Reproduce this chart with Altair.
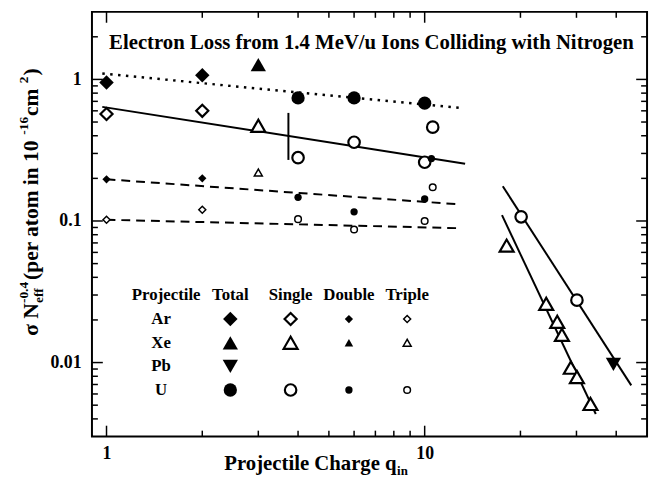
import altair as alt
import pandas as pd

# ---------------- data ----------------
# Total (large filled symbols)
ar_total_q = [1, 2]
ar_total = [0.95, 1.07]
xe_total_q = [3]
xe_total = [1.27]
pb_total_q = [39.2]
pb_total = [0.0097]
u_total_q = [4, 6, 10]
u_total = [0.74, 0.74, 0.68]

# Single (large open symbols)
ar_single_q = [1, 2]
ar_single = [0.57, 0.60]
xe_single_q = [3, 18.1, 24.1, 26.1, 27.0, 28.8, 30.1, 33.2]
xe_single = [0.47, 0.067, 0.026, 0.0194, 0.0157, 0.0092, 0.0079, 0.0051]
u_single_q = [4, 6, 10, 10.6, 20.1, 30.1]
u_single = [0.28, 0.36, 0.26, 0.46, 0.107, 0.0276]

# Double (small filled symbols)
ar_double_q = [1, 2]
ar_double = [0.197, 0.20]
u_double_q = [4, 6, 10, 10.5]
u_double = [0.147, 0.116, 0.143, 0.276]

# Triple (small open symbols)
ar_triple_q = [1, 2]
ar_triple = [0.102, 0.12]
xe_triple_q = [3]
xe_triple = [0.22]
u_triple_q = [4, 6, 10, 10.6]
u_triple = [0.103, 0.087, 0.10, 0.173]

# fitted lines (end points)
total_fit_q = [0.97, 12.8]
total_fit = [1.10, 0.63]
single_fit_q = [0.97, 13.4]
single_fit = [0.64, 0.254]
double_fit_q = [1.0, 12.9]
double_fit = [0.197, 0.131]
triple_fit_q = [1.0, 12.7]
triple_fit = [0.102, 0.089]
u_steep_q = [17.6, 44.6]
u_steep = [0.176, 0.0069]
xe_steep_q = [17.5, 34.5]
xe_steep = [0.11, 0.00433]

# vertical bar
bar_q = [3.73]
bar_lo = [0.27]
bar_hi = [0.58]

# axis ticks
x_major = [1, 10]
x_minor = [2, 3, 4, 5, 6, 7, 8, 9, 20, 30, 40]
y_major = [0.01, 0.1, 1]
y_minor = [0.004, 0.005, 0.006, 0.007, 0.008, 0.009,
           0.02, 0.03, 0.04, 0.05, 0.06, 0.07, 0.08, 0.09,
           0.2, 0.3, 0.4, 0.5, 0.6, 0.7, 0.8, 0.9, 2]

# legend table (placed in data coordinates)
legend_projectiles = ["Ar", "Xe", "Pb", "U"]
legend_row_s = [0.0203, 0.0138, 0.0094, 0.0064]
legend_columns = ["Total", "Single", "Double", "Triple"]
legend_col_q = [2.45, 3.79, 5.78, 8.81]
legend_header_s = 0.0298
legend_header_q = 1.54
legend_label_q = 1.485

# ---------------- layout / style ----------------
W, H = 562, 430
FONT = "Liberation Serif"
xscale = alt.Scale(type="log", domain=[0.9, 50], nice=False)
yscale = alt.Scale(type="log", domain=[0.003, 3], nice=False)
xaxis = alt.Axis(values=x_major, format="d", title=None, grid=False, ticks=False,
                 domain=False, labelPadding=8, labelFontSize=18, labelFont=FONT,
                 labelFontWeight="bold", labelColor="black")
yaxis = alt.Axis(values=y_major, format=".2~f", title=None, grid=False, ticks=False,
                 domain=False, labelPadding=11, labelFontSize=18, labelFont=FONT,
                 labelFontWeight="bold", labelColor="black")


def X():
    return alt.X("q:Q", scale=xscale, axis=xaxis)


def Y(field="s"):
    return alt.Y(f"{field}:Q", scale=yscale, axis=yaxis)


SHAPE = {"Ar": "diamond", "Xe": "triangle-up", "Pb": "triangle-down", "U": "circle"}
SIZE_BIG = {"diamond": (215, 150), "triangle-up": (240, 200),
            "triangle-down": (240, 200), "circle": (180, 135)}
SIZE_SMALL = {"diamond": (70, 50), "triangle-up": (75, 65),
              "triangle-down": (75, 65), "circle": (55, 45)}


def markers(q, s, proj, kind):
    shape = SHAPE[proj]
    filled = kind in ("Total", "Double")
    big = kind in ("Total", "Single")
    size = (SIZE_BIG if big else SIZE_SMALL)[shape][0 if filled else 1]
    sw = 0 if filled else (2.2 if big else 1.5)
    df = pd.DataFrame({"q": q, "s": s})
    return alt.Chart(df).mark_point(
        shape=shape, filled=True, fill="black" if filled else "white",
        stroke="black", strokeWidth=sw, size=size, opacity=1
    ).encode(x=X(), y=Y())


def line(q, s, dash=None, width=2.0):
    df = pd.DataFrame({"q": q, "s": s})
    kw = dict(color="black", strokeWidth=width, clip=True)
    if dash:
        kw["strokeDash"] = dash
    return alt.Chart(df).mark_line(**kw).encode(x=X(), y=Y())


def text_at(txt, x, y, size, angle=0, align="left", baseline="alphabetic"):
    df = pd.DataFrame({"t": [txt]})
    return alt.Chart(df).mark_text(
        font=FONT, fontWeight="bold", fontSize=size, color="black",
        align=align, baseline=baseline, angle=angle
    ).encode(text="t:N", x=alt.value(x), y=alt.value(y))


layers = []

# inward ticks
def yticks(vals, length):
    df = pd.DataFrame({"s": vals})
    left = alt.Chart(df).mark_rule(color="black", strokeWidth=1.5).encode(
        y=Y(), x=alt.value(0), x2=alt.value(length))
    right = alt.Chart(df).mark_rule(color="black", strokeWidth=1.5).encode(
        y=Y(), x=alt.value(W - length), x2=alt.value(W))
    return [left, right]


def xticks(vals, length):
    df = pd.DataFrame({"q": vals})
    bottom = alt.Chart(df).mark_rule(color="black", strokeWidth=1.5).encode(
        x=X(), y=alt.value(H), y2=alt.value(H - length))
    top = alt.Chart(df).mark_rule(color="black", strokeWidth=1.5).encode(
        x=X(), y=alt.value(0), y2=alt.value(length))
    return [bottom, top]


layers += yticks(y_major, 11) + yticks(y_minor, 6)
layers += xticks(x_major, 11) + xticks(x_minor, 6)

# fit lines
layers.append(line(total_fit_q, total_fit, dash=[2.5, 5.5], width=2.5))
layers.append(line(single_fit_q, single_fit))
layers.append(line(double_fit_q, double_fit, dash=[9, 6]))
layers.append(line(triple_fit_q, triple_fit, dash=[9, 6]))
layers.append(line(u_steep_q, u_steep))
layers.append(line(xe_steep_q, xe_steep))

# vertical bar
bar_df = pd.DataFrame({"q": bar_q, "s": bar_lo, "s2": bar_hi})
layers.append(alt.Chart(bar_df).mark_rule(color="black", strokeWidth=2).encode(
    x=X(), y=Y(), y2="s2:Q"))

# data points
layers += [
    markers(ar_total_q, ar_total, "Ar", "Total"),
    markers(xe_total_q, xe_total, "Xe", "Total"),
    markers(pb_total_q, pb_total, "Pb", "Total"),
    markers(u_total_q, u_total, "U", "Total"),
    markers(ar_single_q, ar_single, "Ar", "Single"),
    markers(xe_single_q, xe_single, "Xe", "Single"),
    markers(u_single_q, u_single, "U", "Single"),
    markers(ar_triple_q, ar_triple, "Ar", "Triple"),
    markers(xe_triple_q, xe_triple, "Xe", "Triple"),
    markers(u_triple_q, u_triple, "U", "Triple"),
    markers(ar_double_q, ar_double, "Ar", "Double"),
    markers(u_double_q, u_double, "U", "Double"),
]

# legend table
hdr = pd.DataFrame({"q": [legend_header_q] + legend_col_q,
                    "s": [legend_header_s] * 5,
                    "t": ["Projectile"] + legend_columns})
layers.append(alt.Chart(hdr).mark_text(
    font=FONT, fontWeight="bold", fontSize=17, color="black", align="center",
    baseline="middle").encode(x=X(), y=Y(), text="t:N"))
rows = pd.DataFrame({"q": [legend_label_q] * 4, "s": legend_row_s, "t": legend_projectiles})
layers.append(alt.Chart(rows).mark_text(
    font=FONT, fontWeight="bold", fontSize=17, color="black", align="center",
    baseline="middle").encode(x=X(), y=Y(), text="t:N"))
for proj, sy in zip(legend_projectiles, legend_row_s):
    for col, cq in zip(legend_columns, legend_col_q):
        if proj == "Pb" and col != "Total":
            continue
        layers.append(markers([cq], [sy], proj, col))

# title inside the plot
layers.append(text_at("Electron Loss from 1.4 MeV/u Ions Colliding with Nitrogen",
                      W / 2 + 2, 38, 21, align="center"))

# ---- axis titles with sub/superscripts (Times-Bold metrics) ----
WID = {" ": 250, "N": 722, "e": 444, "f": 333, "-": 333, "0": 500, ".": 250, "4": 500,
       "(": 333, "p": 556, "r": 444, "a": 500, "t": 333, "o": 500, "m": 833, "i": 278,
       "n": 556, "1": 500, "6": 500, "c": 444, "2": 500, ")": 333, "\u03c3": 560,
       "P": 611, "j": 333, "l": 278, "C": 722, "h": 556, "g": 500, "q": 556}


def tw(s, size):
    return sum(WID.get(c, 500) for c in s) * size / 1000.0


S = 21.7
SM = 13.5
ybase_x = -55
ystart = 328
cur = 0.0
layers.append(text_at("\u03c3 N", ybase_x, ystart - cur, S, angle=270))
cur += tw("\u03c3 N", S)
layers.append(text_at("eff", ybase_x + 5, ystart - cur, SM, angle=270))
layers.append(text_at("-0.4", ybase_x - 10, ystart - cur, SM, angle=270))
cur += max(tw("eff", SM), tw("-0.4", SM)) + 2
layers.append(text_at(" (per atom in 10", ybase_x, ystart - cur, S, angle=270))
cur += tw(" (per atom in 10", S)
layers.append(text_at("-16", ybase_x - 10, ystart - cur, SM, angle=270))
cur += tw("-16", SM) + 1
layers.append(text_at(" cm", ybase_x, ystart - cur, S, angle=270))
cur += tw(" cm", S)
layers.append(text_at("2", ybase_x - 10, ystart - cur, SM, angle=270))
cur += tw("2", SM) + 1
layers.append(text_at(")", ybase_x, ystart - cur, S, angle=270))

SX = 21
xt_x = 134
xt_y = 464
layers.append(text_at("Projectile Charge q", xt_x, xt_y, SX))
layers.append(text_at("in", xt_x + tw("Projectile Charge q", SX), xt_y + 5, 13))

chart = alt.layer(*layers).properties(
    width=W, height=H,
    autosize=alt.AutoSizeParams(type="none"),
    padding={"left": 85, "top": 1, "right": 4, "bottom": 38},
).configure_view(stroke="black", strokeWidth=2)

chart.save("out.html", embed_options={"renderer": "svg", "actions": False})
